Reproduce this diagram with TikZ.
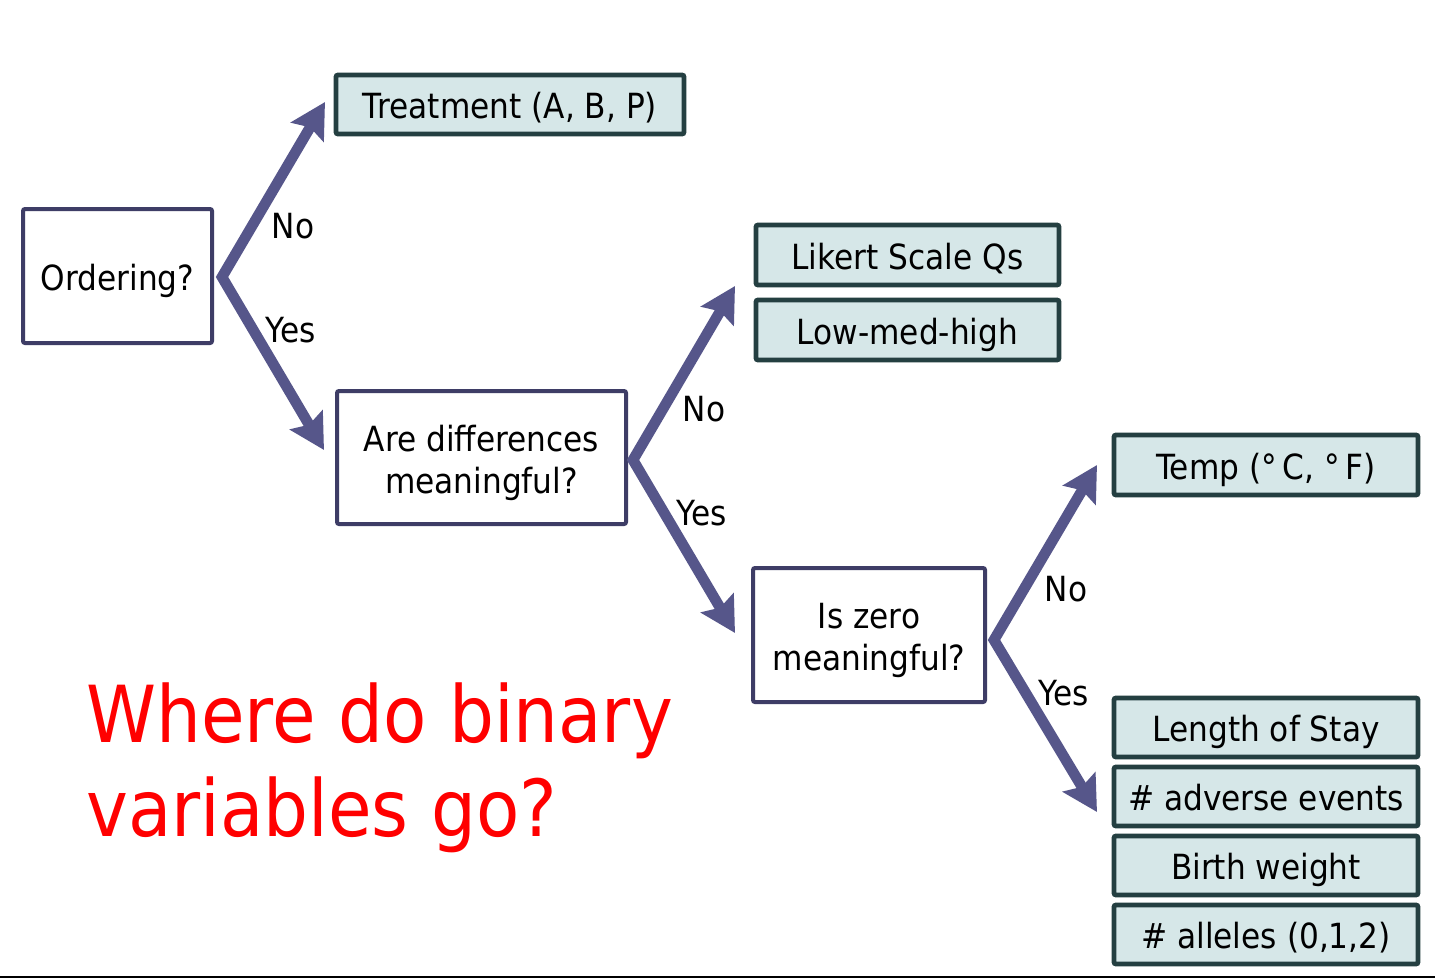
\documentclass[tikz,border=0pt]{standalone}
\usepackage{fontspec}
\setmainfont{DejaVu Sans}[FakeStretch=0.9]
\usetikzlibrary{arrows.meta}
\definecolor{qborder}{HTML}{3E3D66}
\definecolor{leafborder}{HTML}{243F41}
\definecolor{leaffill}{HTML}{D6E7E8}
\definecolor{arrowcol}{HTML}{56568A}
\tikzset{
  bfont/.style={font=\fontsize{26}{31.5}\selectfont},
  qbox/.style={draw=qborder, line width=3pt, fill=white, inner sep=0pt,
    rounded corners=1.5pt, bfont, text height=21pt, text depth=0pt},
  qbox2/.style={draw=qborder, line width=3pt, fill=white, inner sep=0pt,
    rounded corners=1.5pt, bfont, text height=21pt, text depth=30.75pt},
  leaf/.style={draw=leafborder, line width=3.6pt, fill=leaffill, inner sep=0pt,
    rounded corners=1.5pt,
    minimum width=304*0.75pt, minimum height=59*0.75pt, bfont, text height=21.5pt, text depth=0pt},
  lbl/.style={bfont, inner sep=0pt},
  fork/.style={draw=arrowcol, line width=8pt, line join=miter,
    {Stealth[length=26pt, width=28pt, inset=4pt]}-{Stealth[length=26pt, width=28pt, inset=4pt]}},
}
\begin{document}
\begin{tikzpicture}[x=0.75pt, y=-0.75pt]
\useasboundingbox (0,0) rectangle (1435,978);
\fill[white] (0,0) rectangle (1435,978);
\draw[black, line width=1.5pt] (0,976.5) -- (1435,976.5);

% question boxes
\node[qbox, minimum width=189*0.75pt, minimum height=134*0.75pt] (ord) at (117.5,276) {Ordering?};
\node[qbox2, minimum width=289*0.75pt, minimum height=133*0.75pt] (diff) at (481.5,457.5)
  {\begin{tabular}[t]{@{}c@{}}Are differences\\meaningful?\end{tabular}};
\node[qbox2, minimum width=232*0.75pt, minimum height=134*0.75pt] (zero) at (869,635)
  {\begin{tabular}[t]{@{}c@{}}Is zero\\meaningful?\end{tabular}};

% leaf boxes
\node[leaf, minimum width=348*0.75pt] (treat) at (510,104.5) {Treatment (A, B, P)};
\node[leaf, minimum width=303*0.75pt, minimum height=60*0.75pt] (likert) at (907.5,255) {Likert Scale Qs};
\node[leaf, minimum width=303*0.75pt, minimum height=60*0.75pt] (lmh) at (907.5,330) {Low-med-high};
\node[leaf, minimum height=60*0.75pt] (temp) at (1266,465) {Temp (°\,C, °\,F)};
\node[leaf] (los) at (1266,727.5) {Length of Stay};
\node[leaf] (adv) at (1266,796.5) {\# adverse events};
\node[leaf] (bw) at (1266,865.5) {Birth weight};
\node[leaf] (all) at (1266,934.5) {\# alleles (0,1,2)};

% fork coordinates
\coordinate (a0) at (222,277);
\coordinate (a1) at (325,102);
\coordinate (a2) at (324,450);
\coordinate (b0) at (633,460);
\coordinate (b1) at (735,286);
\coordinate (b2) at (735,633);
\coordinate (c0) at (994,640);
\coordinate (c1) at (1097,465);
\coordinate (c2) at (1097,812);

\draw[fork] (a1) -- (a0) -- (a2);
\draw[fork] (b1) -- (b0) -- (b2);
\draw[fork] (c1) -- (c0) -- (c2);

% labels
\node[lbl] (n1) at (293,226) {No};
\node[lbl] (y1) at (291,330) {Yes};
\node[lbl] (n2) at (704,409) {No};
\node[lbl] (y2) at (702,513) {Yes};
\node[lbl] (n3) at (1066,589) {No};
\node[lbl] (y3) at (1064,693) {Yes};

% red question
\node[anchor=north west, inner sep=0pt, align=left, text=red,
  font=\fontsize{59}{71}\selectfont] (q) at (86,682) {Where do binary\\variables go?};
\end{tikzpicture}
\end{document}
